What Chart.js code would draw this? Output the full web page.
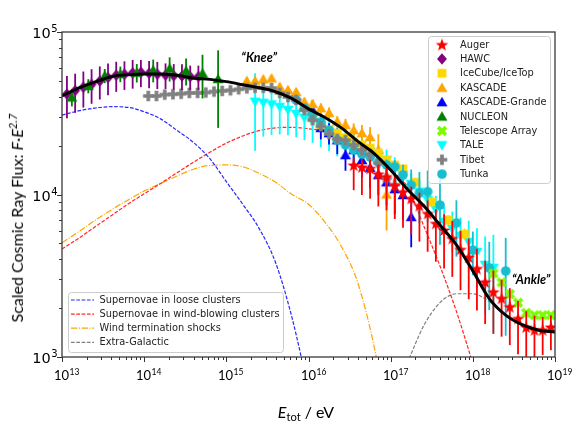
<!DOCTYPE html>
<html>
<head>
<meta charset="utf-8">
<script src="https://cdn.jsdelivr.net/npm/chart.js@4.4.1/dist/chart.umd.min.js"></script>
<style>
  html, body { margin: 0; padding: 0; background: #fff; }
  #wrap { position: relative; width: 576px; height: 432px; }
  #chart { position: absolute; left: 0; top: 0; }
  .title { position: absolute; white-space: nowrap; font-family: Lato, "DejaVu Sans", sans-serif; font-size: 16px; line-height: 1; color: #000; }
  .ytitle { left: 16px; top: 218px; transform: translate(-50%, -50%) rotate(-90deg); }
  .xtitle { left: 306px; top: 413px; transform: translate(-50%, -50%); }
  .title sup { font-size: 0.7em; vertical-align: 0.55em; }
  .title sub { font-size: 0.7em; vertical-align: -0.3em; }
</style>
</head>
<body>
<div id="wrap">
  <canvas id="chart" width="576" height="432"></canvas>
  <div class="title ytitle">Scaled Cosmic Ray Flux: <i>F</i>·<i>E</i><sup><i>2.7</i></sup></div>
  <div class="title xtitle"><i>E</i><sub>tot</sub> / eV</div>
</div>
<script>
const hawcLogE = [13.06, 13.16, 13.26, 13.36, 13.46, 13.56, 13.66, 13.76, 13.86, 13.96, 14.06, 14.16, 14.26, 14.36, 14.46, 14.56, 14.66];
const hawcFlux = [41500, 43600, 45700, 47600, 49900, 52400, 54200, 55000, 56000, 56500, 55700, 55000, 54300, 53800, 53600, 53100, 53100];
const hawcErr = [0.29, 0.27, 0.25, 0.24, 0.23, 0.22, 0.21, 0.2, 0.2, 0.19, 0.19, 0.19, 0.18, 0.18, 0.18, 0.17, 0.17];

const nucleonLogE = [13.12, 13.32, 13.52, 13.71, 13.91, 14.11, 14.31, 14.51, 14.71, 14.9];
const nucleonFlux = [39600, 46600, 53800, 55200, 56200, 58300, 59700, 57800, 55700, 51400];
const nucleonErr = [0.12, 0.1, 0.1, 0.11, 0.13, 0.16, 0.17, 0.19, 0.3, 0.5];

const tibetLogE = [14.05, 14.15, 14.25, 14.35, 14.45, 14.55, 14.65, 14.75, 14.85, 14.95, 15.05, 15.15, 15.25, 15.35, 15.45, 15.55,
  15.65, 15.75, 15.85, 15.95, 16.05, 16.15, 16.25, 16.35, 16.45, 16.55, 16.65, 16.75, 16.85, 16.95, 17.05];
const tibetFlux = [40400, 40400, 41200, 41400, 41700, 42200, 42200, 42400, 43000, 43400, 43800, 44400, 45000, 45400, 45400, 45200,
  42200, 39800, 38200, 33100, 28700, 26300, 23600, 22000, 21600, 20200, 18800, 17700, 15600, 12600, 11500];

const kascadeLogE = [15.25, 15.35, 15.45, 15.55, 15.65, 15.75, 15.85, 15.95, 16.05, 16.15, 16.25, 16.35, 16.45, 16.55, 16.65, 16.75, 16.85, 16.95];
const kascadeFlux = [50100, 50100, 51200, 51900, 46000, 44000, 42800, 37200, 36100, 34000, 31800, 28100, 26800, 24900, 23900, 22600, 18800, 10000];
const kascadeErr = [0.05, 0.05, 0.05, 0.05, 0.05, 0.05, 0.05, 0.06, 0.06, 0.07, 0.08, 0.08, 0.09, 0.1, 0.12, 0.15, 0.25, 0.4];

const grandeLogE = [16.05, 16.15, 16.25, 16.35, 16.45, 16.55, 16.65, 16.75, 16.85, 16.95, 17.05, 17.15, 17.25];
const grandeFlux = [33100, 25700, 23900, 21600, 17500, 18800, 16300, 14600, 13200, 11900, 10800, 9930, 7280];
const grandeErr = [0.15, 0.15, 0.15, 0.18, 0.2, 0.2, 0.22, 0.25, 0.25, 0.28, 0.3, 0.3, 0.35];

const iceLogE = [16.05, 16.15, 16.25, 16.35, 16.45, 16.55, 16.65, 16.75, 16.85, 16.95, 17.05, 17.15, 17.3, 17.5, 17.7, 17.9];
const iceFlux = [30200, 26800, 24900, 23900, 22300, 21000, 20200, 19300, 18000, 16300, 15200, 14400, 11900, 9000, 6970, 5710];
const iceErr = [0.03, 0.03, 0.03, 0.03, 0.03, 0.03, 0.03, 0.03, 0.03, 0.03, 0.04, 0.04, 0.05, 0.06, 0.07, 0.08];

const taleLogE = [15.35, 15.45, 15.55, 15.65, 15.75, 15.85, 15.95, 16.05, 16.15, 16.25, 16.35, 16.45, 16.55, 16.65, 16.75,
  16.85, 16.95, 17.05, 17.15, 17.25, 17.35, 17.45, 17.55, 17.65, 17.75, 17.85, 17.95, 18.05, 18.15, 18.25];
const taleFlux = [37200, 36600, 35800, 34500, 33100, 31300, 29600, 28100, 26000, 24300, 22300, 21000, 19900, 19100, 18300,
  17300, 16300, 14600, 13200, 11600, 10400, 9250, 8040, 6780, 6140, 5560, 5110, 4430, 3680, 3530];
const taleErr = [0.5, 0.38, 0.35, 0.32, 0.3, 0.28, 0.27, 0.26, 0.25, 0.24, 0.23, 0.22, 0.2, 0.19, 0.18,
  0.17, 0.16, 0.16, 0.16, 0.17, 0.18, 0.2, 0.22, 0.25, 0.28, 0.3, 0.35, 0.4, 0.5, 0.6];

const tunkaLogE = [15.85, 15.95, 16.05, 16.15, 16.25, 16.35, 16.45, 16.55, 16.65, 16.75, 16.85, 16.95, 17.05, 17.15, 17.25,
  17.35, 17.45, 17.6, 17.8, 18.0, 18.2, 18.4];
const tunkaFlux = [38200, 34000, 30800, 27900, 24900, 21600, 20200, 18800, 17700, 17000, 15800, 15200, 14800, 13200, 11400,
  10200, 10400, 8610, 6680, 4550, 3530, 3380];
const tunkaErr = [0.05, 0.05, 0.05, 0.05, 0.05, 0.05, 0.05, 0.05, 0.06, 0.06, 0.07, 0.08, 0.1, 0.15, 0.25,
  0.35, 0.35, 0.43, 0.38, 0.3, 0.45, 0.6];

const augerLogE = [16.55, 16.65, 16.75, 16.85, 16.95, 17.05, 17.15, 17.25, 17.35, 17.45, 17.55, 17.65, 17.75, 17.85, 17.95,
  18.05, 18.15, 18.25, 18.35, 18.45, 18.55, 18.65, 18.75, 18.85, 18.95];
const augerFlux = [15200, 14800, 14500, 13400, 12900, 11400, 10400, 9480, 8550, 7660, 6650, 6050, 5370, 4600, 4120,
  3510, 2900, 2520, 2300, 2040, 1730, 1530, 1470, 1470, 1530];
const augerErrLo = [0.3, 0.33, 0.35, 0.37, 0.38, 0.38, 0.4, 0.4, 0.4, 0.42, 0.42, 0.42, 0.42, 0.44, 0.45,
  0.45, 0.45, 0.45, 0.42, 0.42, 0.4, 0.38, 0.35, 0.3, 0.28];
const augerErrHi = [0.12, 0.12, 0.13, 0.14, 0.15, 0.15, 0.15, 0.18, 0.2, 0.2, 0.22, 0.25, 0.28, 0.3, 0.3,
  0.32, 0.35, 0.35, 0.3, 0.3, 0.28, 0.25, 0.22, 0.2, 0.18];

const taLogE = [18.25, 18.35, 18.45, 18.55, 18.65, 18.75, 18.85, 18.95];
const taFlux = [3270, 2880, 2440, 2160, 1870, 1810, 1810, 1810];

// model curves on a common energy grid
const curveLogE = [13.0, 13.2, 13.4, 13.6, 13.8, 14.0, 14.2, 14.4, 14.6, 14.8, 15.0, 15.2, 15.4, 15.6, 15.8, 16.0,
  16.2, 16.4, 16.6, 16.8, 17.0, 17.2, 17.4, 17.6, 17.8, 18.0, 18.2, 18.4, 18.6, 18.8, 19.0];
const totalFlux = [40400, 45200, 49200, 53100, 54500, 55200, 55100, 54200, 52000, 51100, 49500, 47400, 45400, 42900, 38900, 33650,
  29790, 25700, 21230, 17870, 14130, 10810, 8550, 6490, 4900, 3390, 2290, 1810, 1580, 1460, 1430];
const looseFlux = [30800, 32700, 34000, 34700, 34400, 32300, 29200, 24800, 20900, 16600, 12000, 8710, 6170, 3800, 1740, 630,
  null, null, null, null, null, null, null, null, null, null, null, null, null, null, null];
const windFlux = [4620, 5370, 6310, 7410, 8710, 10100, 11700, 13600, 15800, 18200, 20700, 22900, 24700, 25700, 25900, 25400,
  24500, 22400, 19700, 16800, 14100, 11200, 6460, 3630, 1910, 912, null, null, null, null, null];
const shockFlux = [5040, 5890, 6920, 8040, 9230, 10500, 11700, 13000, 14300, 15100, 15200, 14800, 13500, 11900, 10000, 8710,
  6760, 4790, 2860, 1150, 316, null, null, null, null, null, null, null, null, null, null];
const egFlux = [null, null, null, null, null, null, null, null, null, null, null, null, null, null, null, null,
  null, null, null, null, null, 912, 1550, 2160, 2450, 2450, 2190, 1820, 1570, 1450, 1400];

const xTickExp = [13, 19];
const yTickExp = [3, 5];

const pts = (logE, flux) => logE.map((e, i) => ({ x: 10 ** e, y: flux[i] }));
const isDecade = v => Math.abs(Math.log10(v) - Math.round(Math.log10(v))) < 1e-6;

const MS = 1.15; // marker scale
function marker(color, draw) {
  const c = document.createElement('canvas');
  c.width = 16; c.height = 16;
  const g = c.getContext('2d');
  g.fillStyle = color;
  g.translate(8, 8);
  g.scale(MS, MS);
  g.beginPath();
  draw(g);
  g.fill();
  return c;
}

const shapes = {
  circle: g => g.arc(0, 0, 4.2, 0, 2 * Math.PI),
  square: g => g.rect(-3.8, -3.8, 7.6, 7.6),
  diamond: g => { g.moveTo(0, -5); g.lineTo(4.3, 0); g.lineTo(0, 5); g.lineTo(-4.3, 0); g.closePath(); },
  up: g => { g.moveTo(0, -4.6); g.lineTo(4.8, 3.8); g.lineTo(-4.8, 3.8); g.closePath(); },
  down: g => { g.moveTo(0, 4.6); g.lineTo(4.8, -3.8); g.lineTo(-4.8, -3.8); g.closePath(); },
  star: g => {
    for (let k = 0; k < 10; k++) {
      const r = k % 2 ? 2.4 : 5.8, a = -Math.PI / 2 + k * Math.PI / 5;
      g.lineTo(r * Math.cos(a), r * Math.sin(a) + 0.6);
    }
    g.closePath();
  },
  plus: g => { g.rect(-4.6, -1.6, 9.2, 3.2); g.rect(-1.6, -4.6, 3.2, 9.2); },
  cross: g => { g.rotate(Math.PI / 4); g.rect(-4.8, -1.6, 9.6, 3.2); g.rect(-1.6, -4.8, 3.2, 9.6); }
};

function series(label, color, shape, logE, flux, errLo, errHi, order) {
  return {
    label, data: pts(logE, flux), kind: 'data',
    pointStyle: marker(color, shapes[shape]), pointRadius: 5, borderWidth: 0,
    backgroundColor: color, borderColor: color, showLine: false,
    errLo, errHi: errHi || errLo, order
  };
}

function curve(label, color, width, dash, flux, order) {
  return {
    label, data: pts(curveLogE, flux), kind: label ? 'model' : 'total',
    showLine: true, borderColor: color, backgroundColor: color, borderWidth: width, borderDash: dash,
    pointRadius: 0, cubicInterpolationMode: 'monotone', fill: false, order
  };
}

const datasets = [
  series('Auger', '#ff0000', 'star', augerLogE, augerFlux, augerErrLo, augerErrHi, 1),
  series('HAWC', '#800080', 'diamond', hawcLogE, hawcFlux, hawcErr, null, 4),
  series('IceCube/IceTop', '#ffd700', 'square', iceLogE, iceFlux, iceErr, null, 7),
  series('KASCADE', '#ffa500', 'up', kascadeLogE, kascadeFlux, kascadeErr, null, 8),
  series('KASCADE-Grande', '#0000ff', 'up', grandeLogE, grandeFlux, grandeErr, null, 9),
  series('NUCLEON', '#008000', 'up', nucleonLogE, nucleonFlux, nucleonErr, null, 3),
  series('Telescope Array', '#7cfc00', 'cross', taLogE, taFlux, null, null, 2),
  series('TALE', '#00ffff', 'down', taleLogE, taleFlux, taleErr, null, 10),
  series('Tibet', '#808080', 'plus', tibetLogE, tibetFlux, null, null, 5),
  series('Tunka', '#17becf', 'circle', tunkaLogE, tunkaFlux, tunkaErr, null, 6),
  curve('Supernovae in loose clusters', 'rgba(0,0,255,0.85)', 1.2, [3.7, 1.6], looseFlux, 20),
  curve('Supernovae in wind-blowing clusters', 'rgba(255,0,0,0.85)', 1.2, [3.7, 1.6], windFlux, 21),
  curve('Wind termination shocks', '#ffa500', 1.2, [6.4, 1.6, 1, 1.6], shockFlux, 22),
  curve('Extra-Galactic', '#808080', 1.2, [3.7, 1.6], egFlux, 23),
  curve('', '#000000', 3, [], totalFlux, 0)
];

const annotations = [
  { text: '“Knee”', x: 10 ** 15.4, y: 69000 },
  { text: '“Ankle”', x: 10 ** 18.71, y: 2980 }
];

function logTicks(lo, hi) {
  const t = [];
  for (let p = lo; p < hi; p++) for (let m = 1; m < 10; m++) t.push({ value: m * 10 ** p });
  t.push({ value: 10 ** hi });
  return t;
}

// "10" with a raised exponent; align 'right' ends at px, otherwise "10" is centred on px
function powerLabel(ctx, px, baseY, exp, font, size, supSize, raise, align) {
  ctx.font = `${size}px ${font}`;
  const w1 = ctx.measureText('10').width;
  const x0 = align === 'right' ? px - w1 - ctx.measureText(String(exp)).width * supSize / size : px - w1 / 2 - 1;
  ctx.fillText('10', x0, baseY);
  ctx.font = `${supSize}px ${font}`;
  ctx.fillText(String(exp), x0 + w1 + 0.5, baseY - raise);
}

// vertical error bars, drawn right before the markers of their own dataset
const errorBars = {
  id: 'errorBars',
  beforeDatasetDraw(chart, args) {
    const ds = chart.data.datasets[args.index];
    if (!ds.errLo) return;
    const { ctx, chartArea: a, scales: { x, y } } = chart;
    ctx.save();
    ctx.beginPath();
    ctx.rect(a.left, a.top, a.right - a.left, a.bottom - a.top);
    ctx.clip();
    ctx.strokeStyle = ds.borderColor;
    ctx.lineWidth = 1.8;
    ds.data.forEach((p, i) => {
      const px = x.getPixelForValue(p.x);
      ctx.beginPath();
      ctx.moveTo(px, y.getPixelForValue(p.y * (1 - ds.errLo[i])));
      ctx.lineTo(px, y.getPixelForValue(p.y * (1 + ds.errHi[i])));
      ctx.stroke();
    });
    ctx.restore();
  }
};

function legendBox(ctx, x, y, w, h) {
  ctx.save();
  ctx.fillStyle = 'rgba(255,255,255,0.8)';
  ctx.strokeStyle = '#cccccc';
  ctx.lineWidth = 1;
  ctx.beginPath();
  ctx.roundRect(x + 0.5, y + 0.5, w, h, 3);
  ctx.fill();
  ctx.stroke();
  ctx.restore();
}

const frameAndLegends = {
  id: 'frameAndLegends',
  afterDraw(chart) {
    const { ctx, chartArea: a, scales: { x, y } } = chart;
    ctx.save();
    // tick marks, outward, and decade labels
    ctx.strokeStyle = '#333';
    ctx.fillStyle = '#000';
    ctx.lineWidth = 1;
    ctx.textBaseline = 'alphabetic';
    ctx.textAlign = 'left';
    x.ticks.forEach(t => {
      const px = Math.round(x.getPixelForValue(t.value)) + 0.5;
      const major = isDecade(t.value);
      ctx.beginPath(); ctx.moveTo(px, a.bottom); ctx.lineTo(px, a.bottom + (major ? 5 : 3)); ctx.stroke();
      if (major) powerLabel(ctx, px, a.bottom + 23, Math.round(Math.log10(t.value)), 'Lato, "DejaVu Sans", sans-serif', 13, 8.5, 5, 'center');
    });
    y.ticks.forEach(t => {
      const py = Math.round(y.getPixelForValue(t.value)) + 0.5;
      const major = isDecade(t.value);
      ctx.beginPath(); ctx.moveTo(a.left, py); ctx.lineTo(a.left - (major ? 5 : 3), py); ctx.stroke();
      if (major) powerLabel(ctx, a.left - 5, py + 5.5, Math.round(Math.log10(t.value)), '"DejaVu Sans", sans-serif', 14.5, 10, 6.5, 'right');
    });
    ctx.strokeStyle = '#3a3a3a';
    ctx.lineWidth = 1.3;
    ctx.strokeRect(a.left, a.top, a.right - a.left, a.bottom - a.top);

    // annotations
    ctx.fillStyle = '#000';
    ctx.font = 'italic bold 12.5px Lato, "DejaVu Sans", sans-serif';
    ctx.textAlign = 'center';
    ctx.textBaseline = 'middle';
    annotations.forEach(n => ctx.fillText(n.text, x.getPixelForValue(n.x), y.getPixelForValue(n.y)));

    // legend of the measurements
    ctx.font = '9.8px "DejaVu Sans", sans-serif';
    ctx.textAlign = 'left';
    const dataSets = chart.data.datasets.filter(d => d.kind === 'data');
    legendBox(ctx, 428, 36, 122, 147);
    dataSets.forEach((d, i) => {
      const cy = 44.5 + i * 14.4;
      const img = d.pointStyle;
      ctx.drawImage(img, 442 - img.width / 2, cy - img.height / 2);
      ctx.fillStyle = '#222';
      ctx.fillText(d.label, 460, cy + 0.5);
    });

    // legend of the model components
    const modelSets = chart.data.datasets.filter(d => d.kind === 'model');
    legendBox(ctx, 68, 292, 215, 60);
    modelSets.forEach((d, i) => {
      const cy = 300 + i * 14.1;
      ctx.strokeStyle = d.borderColor;
      ctx.lineWidth = d.borderWidth;
      ctx.setLineDash(d.borderDash);
      ctx.beginPath(); ctx.moveTo(71, cy); ctx.lineTo(94, cy); ctx.stroke();
      ctx.setLineDash([]);
      ctx.fillStyle = '#222';
      ctx.fillText(d.label, 99.5, cy + 0.5);
    });
    ctx.restore();
  }
};

new Chart(document.getElementById('chart'), {
  type: 'scatter',
  data: { datasets },
  plugins: [errorBars, frameAndLegends],
  options: {
    responsive: false,
    animation: false,
    events: [],
    layout: { padding: { left: 0, right: 21, top: 32, bottom: 0 } },
    plugins: { legend: { display: false }, tooltip: { enabled: false } },
    scales: {
      x: {
        type: 'logarithmic', min: 10 ** xTickExp[0], max: 10 ** xTickExp[1],
        afterBuildTicks: s => { s.ticks = logTicks(xTickExp[0], xTickExp[1]); },
        afterFit: s => { s.height = 75; },
        grid: { display: false }, border: { display: false },
        ticks: { display: false }
      },
      y: {
        type: 'logarithmic', min: 10 ** yTickExp[0], max: 10 ** yTickExp[1],
        afterBuildTicks: s => { s.ticks = logTicks(yTickExp[0], yTickExp[1]); },
        afterFit: s => { s.width = 62; },
        grid: { display: false }, border: { display: false },
        ticks: { display: false }
      }
    }
  }
});
</script>
</body>
</html>
